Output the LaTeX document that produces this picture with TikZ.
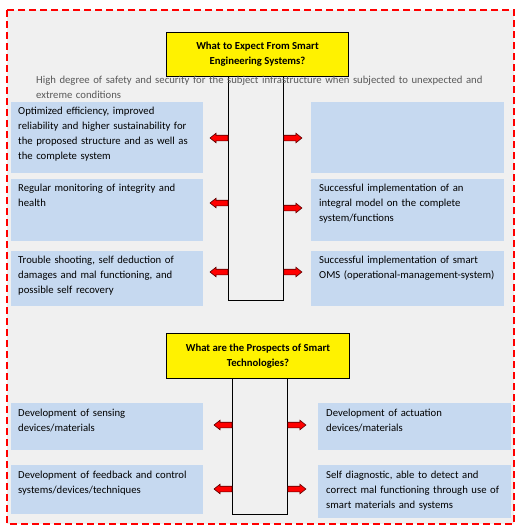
\documentclass[tikz,border=0pt]{standalone}
\usepackage{fontspec}
\setmainfont{Carlito}
\definecolor{boxblue}{HTML}{C6D9F0}
\definecolor{bggray}{HTML}{F0F0F0}
\definecolor{greytext}{HTML}{595959}
\definecolor{arrowedge}{HTML}{5A0000}
\tikzset{
  bbox/.style={fill=boxblue, draw=none, inner sep=0pt, anchor=north west},
  btxt/.style={anchor=north west, inner sep=0pt, align=left, text width=200pt,
    font=\fontsize{10.7}{15}\selectfont, text=black},
  ybox/.style={fill=yellow, draw=black, line width=1pt, inner sep=0pt, anchor=north west,
    align=center, font=\bfseries\fontsize{10.7}{15}\selectfont},
  stembox/.style={draw=black, line width=0.9pt, inner sep=0pt, anchor=north west},
  barrow/.style={fill=red, draw=arrowedge, line width=0.6pt, line join=miter},
}
\newcommand{\arrL}[1]{\draw[barrow] (#1) ++(0,-2.8) -- ++(-12,0) -- ++(0,-2) -- ++(-6,4.8) -- ++(6,4.8) -- ++(0,-2) -- ++(12,0) -- cycle;}
\newcommand{\arrR}[1]{\draw[barrow] (#1) ++(0,-2.8) -- ++(12,0) -- ++(0,-2) -- ++(6,4.8) -- ++(-6,4.8) -- ++(0,-2) -- ++(-12,0) -- cycle;}
\begin{document}
\begin{tikzpicture}[x=1pt,y=-1pt]
\useasboundingbox (0,0) rectangle (532,531);
% background frame
\draw[red, dash pattern=on 7pt off 4pt, line width=1.6pt, fill=bggray] (7,10) rectangle (514,524);

% ---------- upper section ----------
\node[bbox, minimum width=192pt, minimum height=71pt] (L1) at (11,102) {};
\node[bbox, minimum width=193pt, minimum height=71pt] (R1) at (311,102) {};
\node[bbox, minimum width=192pt, minimum height=62pt] (L2) at (11,179) {};
\node[bbox, minimum width=193pt, minimum height=62pt] (R2) at (311,179) {};
\node[bbox, minimum width=192pt, minimum height=55pt] (L3) at (11,251) {};
\node[bbox, minimum width=193pt, minimum height=55pt] (R3) at (311,251) {};

\node[stembox, minimum width=55pt, minimum height=224pt] (S1) at (228,76) {};
\node[ybox, minimum width=182pt, minimum height=44pt] (Y1) at (166,32)
  {What to Expect From Smart\\Engineering Systems?};

\node[btxt, text width=460pt, text=greytext] (G1) at (36,76)
  {High degree of safety and security for the subject infrastructure when subjected to unexpected and\\extreme conditions};

\node[btxt] (T1) at (18,107) {Optimized efficiency, improved\\reliability and higher sustainability for\\the proposed structure and as well as\\the complete system};
\node[btxt] (T2) at (18,184) {Regular monitoring of integrity and\\health};
\node[btxt] (T3) at (18,256) {Trouble shooting, self deduction of\\damages and mal functioning, and\\possible self recovery};
\node[btxt] (T5) at (319,184) {Successful implementation of an\\integral model on the complete\\system/functions};
\node[btxt] (T6) at (319,256) {Successful implementation of smart\\OMS (operational-management-system)};

\arrL{S1.west |- 0,138}
\arrL{S1.west |- 0,203}
\arrL{S1.west |- 0,272}
\arrR{S1.east |- 0,138}
\arrR{S1.east |- 0,208}
\arrR{S1.east |- 0,272}

% ---------- lower section ----------
\node[bbox, minimum width=192pt, minimum height=47pt] (L4) at (11,403) {};
\node[bbox, minimum width=192pt, minimum height=49pt] (L5) at (11,465) {};
\node[bbox, minimum width=193pt, minimum height=47pt] (R4) at (318,403) {};
\node[bbox, minimum width=193pt, minimum height=53pt] (R5) at (318,465) {};

\node[stembox, minimum width=55pt, minimum height=136pt] (S2) at (232,378) {};
\node[ybox, minimum width=183pt, minimum height=45pt] (Y2) at (166,333)
  {What are the Prospects of Smart\\Technologies?};

\node[btxt] (T7) at (18,409) {Development of sensing\\devices/materials};
\node[btxt] (T8) at (18,471) {Development of feedback and control\\systems/devices/techniques};
\node[btxt] (T9) at (326,409) {Development of actuation\\devices/materials};
\node[btxt] (T10) at (326,471) {Self diagnostic, able to detect and\\correct mal functioning through use of\\smart materials and systems};

\arrL{S2.west |- 0,425}
\arrL{S2.west |- 0,489}
\arrR{S2.east |- 0,425}
\arrR{S2.east |- 0,489}
\end{tikzpicture}
\end{document}
